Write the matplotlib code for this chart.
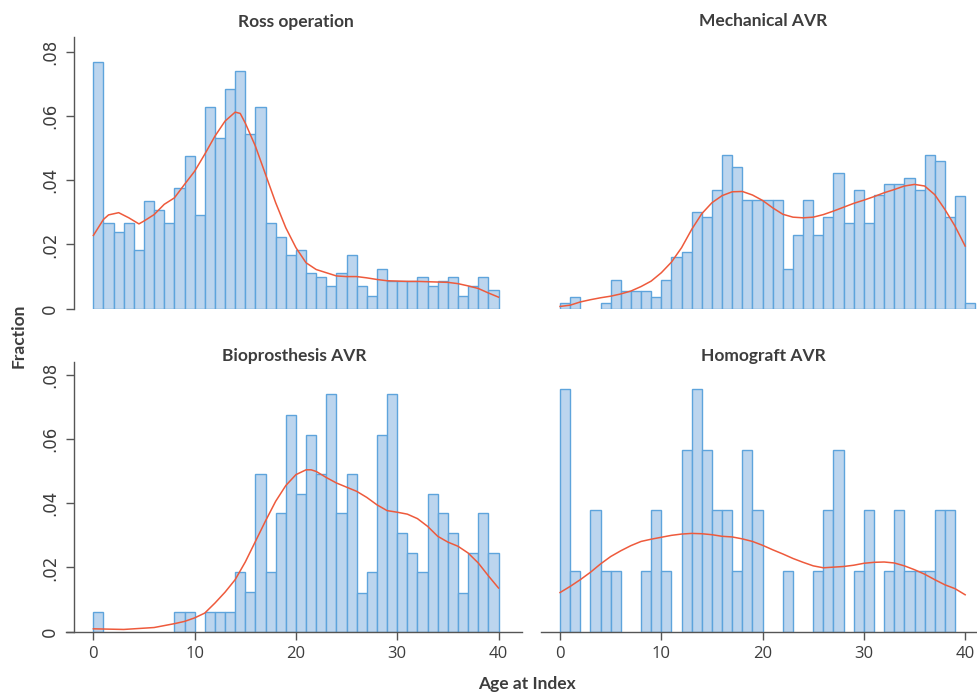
import numpy as np
import matplotlib
matplotlib.use('Agg')
import matplotlib.pyplot as plt
from matplotlib.ticker import FuncFormatter

# ------------------------------------------------------------
# Data (fractions per 1-year age bin)
# ------------------------------------------------------------
ross_frac = [0.0767, 0.0266, 0.0238, 0.0266, 0.0182, 0.0334, 0.0308, 0.0266,
             0.0377, 0.0475, 0.0293, 0.0628, 0.0531, 0.0684, 0.0740, 0.0545,
             0.0628, 0.0266, 0.0223, 0.0167, 0.0182, 0.0112, 0.0099, 0.0071,
             0.0112, 0.0167, 0.0071, 0.0041, 0.0124, 0.0086, 0.0086, 0.0086,
             0.0099, 0.0071, 0.0086, 0.0099, 0.0041, 0.0071, 0.0099, 0.0058]

mech_frac = [0.0018, 0.0036, 0.0, 0.0, 0.0018, 0.0089, 0.0054, 0.0054,
             0.0054, 0.0036, 0.0088, 0.0160, 0.0177, 0.0302, 0.0285, 0.0370,
             0.0477, 0.0441, 0.0337, 0.0337, 0.0337, 0.0337, 0.0123, 0.0230,
             0.0337, 0.0230, 0.0285, 0.0424, 0.0266, 0.0370, 0.0266, 0.0354,
             0.0389, 0.0389, 0.0407, 0.0370, 0.0477, 0.0459, 0.0285, 0.0352,
             0.0018]

bio_frac = [0.0061, 0.0, 0.0, 0.0, 0.0, 0.0, 0.0, 0.0, 0.0061, 0.0061,
            0.0, 0.0061, 0.0061, 0.0061, 0.0185, 0.0124, 0.0491, 0.0185,
            0.0369, 0.0676, 0.0428, 0.0613, 0.0491, 0.0739, 0.0369, 0.0491,
            0.0122, 0.0185, 0.0613, 0.0739, 0.0307, 0.0246, 0.0185, 0.0430,
            0.0369, 0.0307, 0.0122, 0.0246, 0.0369, 0.0246]

homo_frac = [0.0755, 0.0190, 0.0, 0.0378, 0.0190, 0.0190, 0.0, 0.0,
             0.0190, 0.0378, 0.0190, 0.0, 0.0566, 0.0755, 0.0566, 0.0378,
             0.0378, 0.0190, 0.0566, 0.0378, 0.0, 0.0, 0.0190, 0.0,
             0.0, 0.0190, 0.0378, 0.0566, 0.0, 0.0190, 0.0378, 0.0,
             0.0190, 0.0378, 0.0190, 0.0190, 0.0190, 0.0378, 0.0378, 0.0]

# kernel density curves (age, density)
ross_kde_age = [0, 1, 1.5, 2.5, 3.5, 4.5] + list(range(5, 15)) + [14.5] + list(range(15, 41))
ross_kde = [0.0228, 0.0278, 0.0292, 0.0299, 0.0283, 0.0264, 0.0273, 0.0293,
            0.0325, 0.0345, 0.0387, 0.0428, 0.0481, 0.0537, 0.0584, 0.0612,
            0.0608, 0.0578, 0.0506, 0.0418, 0.0330, 0.0252, 0.0190, 0.0143,
            0.0122, 0.0112, 0.0102, 0.0100, 0.0100, 0.0096, 0.0091, 0.0087,
            0.0086, 0.0085, 0.0085, 0.0084, 0.0083, 0.0082, 0.0078, 0.0071,
            0.0063, 0.0049, 0.0036]

mech_kde_age = list(range(0, 41))
mech_kde = [0.0007, 0.0011, 0.0021, 0.0028, 0.0034, 0.0039, 0.0046, 0.0055,
            0.0069, 0.0086, 0.0112, 0.0145, 0.0190, 0.0247, 0.0296, 0.0330,
            0.0352, 0.0364, 0.0365, 0.0354, 0.0337, 0.0314, 0.0294, 0.0285,
            0.0283, 0.0285, 0.0293, 0.0304, 0.0316, 0.0328, 0.0338, 0.0349,
            0.0361, 0.0371, 0.0382, 0.0387, 0.0382, 0.0355, 0.0309, 0.0257,
            0.0195]

bio_kde_age = [0, 3, 6, 8] + list(range(9, 22)) + [21.5] + list(range(22, 41))
bio_kde = [0.0009, 0.0007, 0.0013, 0.0025, 0.0032, 0.0043, 0.0058, 0.0089,
           0.0123, 0.0162, 0.0217, 0.0281, 0.0345, 0.0406, 0.0455, 0.0489,
           0.0504, 0.0504, 0.0499, 0.0480, 0.0463, 0.0450, 0.0437, 0.0418,
           0.0395, 0.0377, 0.0372, 0.0366, 0.0352, 0.0328, 0.0297, 0.0279,
           0.0266, 0.0245, 0.0214, 0.0174, 0.0136]

homo_kde_age = list(range(0, 41))
homo_kde = [0.0122, 0.0141, 0.0162, 0.0185, 0.0211, 0.0234, 0.0252, 0.0268,
            0.0281, 0.0288, 0.0294, 0.0300, 0.0304, 0.0306, 0.0305, 0.0302,
            0.0297, 0.0295, 0.0289, 0.0281, 0.0269, 0.0255, 0.0242, 0.0228,
            0.0216, 0.0205, 0.0199, 0.0201, 0.0203, 0.0207, 0.0213, 0.0216,
            0.0217, 0.0214, 0.0205, 0.0193, 0.0179, 0.0162, 0.0146, 0.0134,
            0.0115]

titles = ['Ross operation', 'Mechanical AVR', 'Bioprosthesis AVR', 'Homograft AVR']
x_ticks = [0, 10, 20, 30, 40]
y_ticks = [0, 0.02, 0.04, 0.06, 0.08]

# ------------------------------------------------------------
# Style
# ------------------------------------------------------------
BAR_FILL = '#bcd5ee'
BAR_EDGE = '#5ea4dc'
KDE_COLOR = '#ee5a3c'
AXIS_COLOR = '#555555'
TEXT_COLOR = '#3d3d3d'
TICK_FONT = ['Open Sans', 'DejaVu Sans']
LABEL_FONT = ['Liberation Sans Narrow', 'Lato', 'DejaVu Sans']

W, H = 977, 692


def frac_fmt(v, pos):
    if abs(v) < 1e-9:
        return '0'
    return f'{v:.2f}'.lstrip('0')


def px_axes(fig, left, top, right, bottom):
    return fig.add_axes([left / W, 1 - bottom / H, (right - left) / W, (bottom - top) / H])


def draw_panel(ax, frac, kde_age, kde):
    frac = np.asarray(frac)
    left = np.arange(len(frac))
    keep = frac > 0
    ax.bar(left[keep], frac[keep], width=1.0, align='edge',
           color=BAR_FILL, edgecolor=BAR_EDGE, linewidth=1.0, zorder=2)
    ax.plot(kde_age, kde, color=KDE_COLOR, lw=1.1, zorder=3)
    for s in ax.spines.values():
        s.set_color(AXIS_COLOR)
        s.set_linewidth(1.0)
    ax.spines['top'].set_visible(False)
    ax.spines['right'].set_visible(False)
    ax.tick_params(colors=AXIS_COLOR, length=6, width=1.0, labelcolor=TEXT_COLOR,
                   labelsize=12)
    ax.set_xticks(x_ticks)
    ax.set_yticks(y_ticks)
    ax.yaxis.set_major_formatter(FuncFormatter(frac_fmt))
    for lab in ax.get_xticklabels() + ax.get_yticklabels():
        lab.set_family(TICK_FONT)


def main():
    fig = plt.figure(figsize=(W / 100, H / 100), dpi=100)

    # pixel layout
    ax_tl = px_axes(fig, 66, 37.3, 521.8, 308.7)
    ax_tr = px_axes(fig, 540.8, 37.3, 977, 308.7)
    ax_bl = px_axes(fig, 66, 361.9, 521.8, 631.7)
    ax_br = px_axes(fig, 540.8, 361.9, 977, 631.7)

    panels = [
        (ax_tl, ross_frac, ross_kde_age, ross_kde),
        (ax_tr, mech_frac, mech_kde_age, mech_kde),
        (ax_bl, bio_frac, bio_kde_age, bio_kde),
        (ax_br, homo_frac, homo_kde_age, homo_kde),
    ]
    for ax, frac, kage, kde in panels:
        draw_panel(ax, frac, kage, kde)

    for ax in (ax_tl, ax_bl):
        ax.set_xlim(-2.7, 42.3)
        ax.spines['left'].set_position(('data', -1.9))
        ax.tick_params(axis='y', labelrotation=90, pad=5)
        for lab in ax.get_yticklabels():
            lab.set_va('center')
    for ax in (ax_tr, ax_br):
        ax.set_xlim(-1.9, 41.17)
        ax.spines['left'].set_visible(False)
        ax.tick_params(axis='y', left=False, labelleft=False)

    ax_tl.set_ylim(0, 0.0845)
    ax_tr.set_ylim(0, 0.0845)
    ax_bl.set_ylim(0, 0.084)
    ax_br.set_ylim(0, 0.084)

    for ax in (ax_tl, ax_tr):
        ax.spines['bottom'].set_visible(False)
        ax.tick_params(axis='x', bottom=False, labelbottom=False)
    for ax in (ax_bl, ax_br):
        ax.tick_params(axis='x', pad=4)

    # panel titles
    title_pos = [(296, 26.5), (763, 26.5), (294, 361.5), (763, 361.5)]
    for (tx, ty), t in zip(title_pos, titles):
        fig.text(tx / W, 1 - ty / H, t, ha='center', va='baseline',
                 fontsize=12.5, fontweight='bold', color=TEXT_COLOR,
                 family=LABEL_FONT)

    fig.text(18.5 / W, 1 - 336 / H, 'Fraction', rotation=90, ha='center',
             va='center', fontsize=12.5, fontweight='bold', color=TEXT_COLOR,
             family=LABEL_FONT)
    fig.text(527 / W, 1 - 684 / H, 'Age at Index', ha='center', va='center',
             fontsize=12.5, fontweight='bold', color=TEXT_COLOR,
             family=LABEL_FONT)

    fig.savefig('out.png', dpi=100)
    plt.close(fig)


if __name__ == '__main__':
    main()
